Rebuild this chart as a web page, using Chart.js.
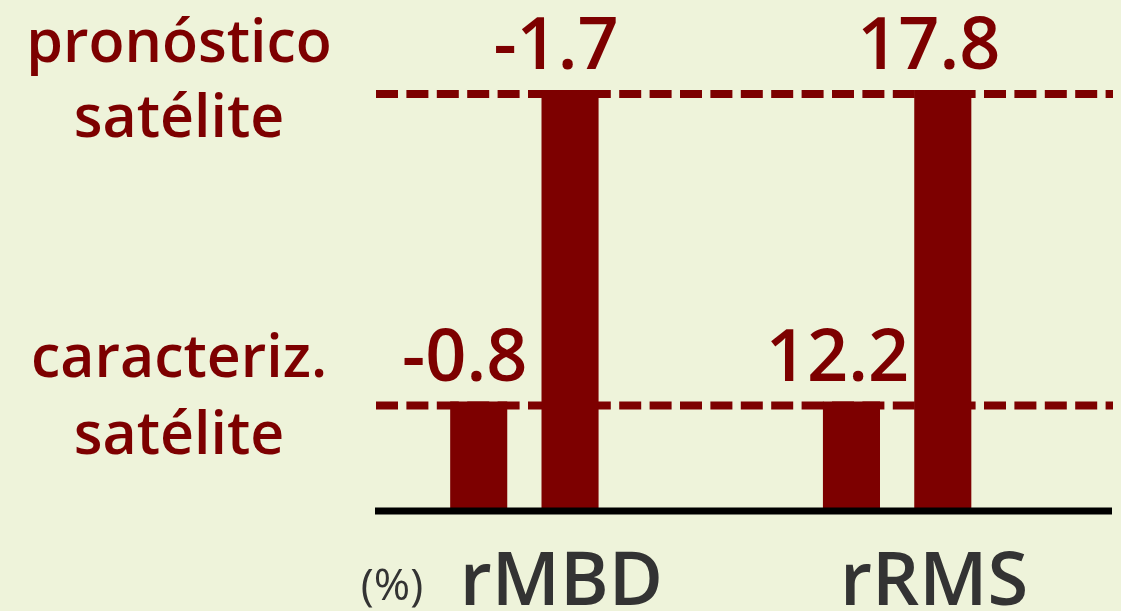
<!DOCTYPE html>
<html>
<head>
<meta charset="utf-8">
<script src="https://cdn.jsdelivr.net/npm/chart.js@4.4.1/dist/chart.umd.min.js"></script>
<style>
  html, body { margin: 0; padding: 0; background: #eef3da; }
  #wrap { width: 1121px; height: 611px; position: relative; }
</style>
</head>
<body>
<div id="wrap"><canvas id="c" width="1121" height="611"></canvas></div>
<script>
// Metrics shown along the x axis
const categories = ['rMBD', 'rRMS'];
// Stated error values (%) for each metric
const caracterizValues = [-0.8, 12.2];
const pronosticoValues = [-1.7, 17.8];
// Bar height per source (relative level)
const caracterizLevel = [26, 26];
const pronosticoLevel = [100, 100];
// Level labels on the left
const caracterizLabel = ['caracteriz.', 'satélite'];
const pronosticoLabel = ['pronóstico', 'satélite'];
const unitLabel = '(%)';

const RED = '#7d0000';
const FONT = '"Open Sans", "Noto Sans", sans-serif';

const fmt = v => v.toFixed(1);

const decor = {
  id: 'decor',
  beforeDatasetsDraw(chart) {
    const ctx = chart.ctx;
    const y = chart.scales.y;
    ctx.save();
    // dashed reference lines at the two levels
    ctx.strokeStyle = RED;
    ctx.lineWidth = 8;
    ctx.setLineDash([22, 8.4]);
    [caracterizLevel[0], pronosticoLevel[0]].forEach(lv => {
      const py = y.getPixelForValue(lv) + 4;
      ctx.beginPath();
      ctx.moveTo(376, py);
      ctx.lineTo(1113, py);
      ctx.stroke();
    });
    ctx.restore();
  },
  afterDatasetsDraw(chart) {
    const ctx = chart.ctx;
    const y = chart.scales.y;
    const x = chart.scales.x;
    ctx.save();
    // baseline
    ctx.strokeStyle = '#000';
    ctx.lineWidth = 7;
    ctx.beginPath();
    ctx.moveTo(375, y.getPixelForValue(0));
    ctx.lineTo(1112, y.getPixelForValue(0));
    ctx.stroke();

    // left level labels
    ctx.fillStyle = RED;
    ctx.textAlign = 'center';
    ctx.textBaseline = 'alphabetic';
    ctx.font = '600 59px ' + FONT;
    const yTop = y.getPixelForValue(pronosticoLevel[0]);
    const yLow = y.getPixelForValue(caracterizLevel[0]);
    ctx.fillText(pronosticoLabel[0], 179, yTop - 28);
    ctx.fillText(pronosticoLabel[1], 179, yTop + 47);
    ctx.fillText(caracterizLabel[0], 179, yLow - 25);
    ctx.fillText(caracterizLabel[1], 179, yLow + 52);

    // value labels above bars
    ctx.font = '600 72px ' + FONT;
    const sets = [caracterizValues, pronosticoValues];
    chart.data.datasets.forEach((ds, di) => {
      const meta = chart.getDatasetMeta(di);
      meta.data.forEach((bar, i) => {
        ctx.fillText(fmt(sets[di][i]), bar.x - 14, bar.y - 21);
      });
    });

    // category labels
    ctx.fillStyle = '#333333';
    ctx.font = '600 74px ' + FONT;
    categories.forEach((c, i) => {
      ctx.fillText(c, x.getPixelForValue(i) + 37, 605);
    });
    ctx.font = '500 44px ' + FONT;
    ctx.fillText(unitLabel, 392, 600);
    ctx.restore();
  }
};

new Chart(document.getElementById('c'), {
  type: 'bar',
  data: {
    labels: categories,
    datasets: [
      { label: 'caracteriz. satélite', data: caracterizLevel, backgroundColor: RED,
        categoryPercentage: 0.49, barPercentage: 0.625 },
      { label: 'pronóstico satélite', data: pronosticoLevel, backgroundColor: RED,
        categoryPercentage: 0.49, barPercentage: 0.625 }
    ]
  },
  options: {
    responsive: false,
    animation: false,
    devicePixelRatio: 1,
    layout: { padding: { left: 338, right: 37.5, top: 90, bottom: 100 } },
    plugins: { legend: { display: false }, tooltip: { enabled: false } },
    scales: {
      x: { display: false },
      y: { display: false, min: 0, max: 100 }
    }
  },
  plugins: [decor]
});
</script>
</body>
</html>
